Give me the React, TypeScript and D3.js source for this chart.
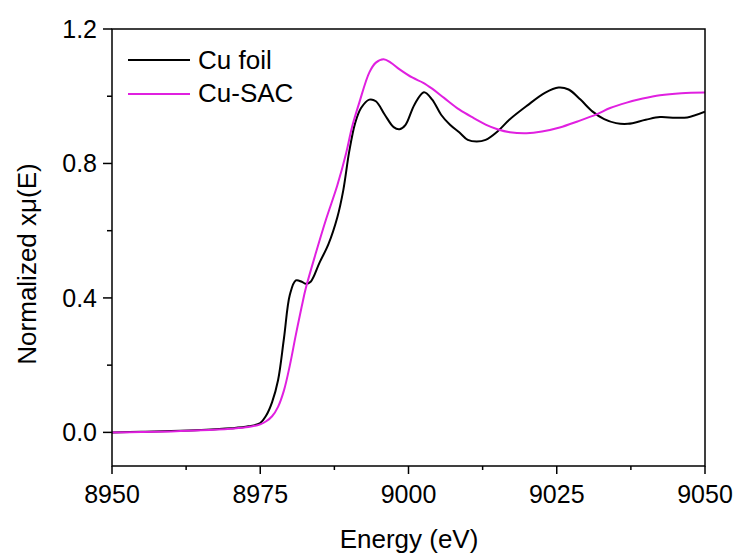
import React from "react";
import * as d3 from "d3";

// Cu K-edge XANES spectra (normalized absorption vs photon energy)
const foilEnergy = [
  8950, 8955, 8960, 8965, 8970, 8973, 8975, 8976, 8977, 8978, 8979, 8980, 8981,
  8982, 8982.7, 8983.5, 8985, 8986.5, 8988, 8989, 8990, 8991, 8992, 8993.4,
  8994.5, 8996, 8997.5, 8998.5, 8999.5, 9001, 9002.6, 9004, 9005.5, 9007,
  9008.6, 9010, 9011.5, 9013, 9015, 9017, 9020, 9023, 9025.3, 9027, 9029, 9031,
  9033, 9035, 9037, 9040, 9042.4, 9045, 9047, 9050,
];
const foilMu = [
  0.0, 0.002, 0.004, 0.007, 0.012, 0.018, 0.028, 0.05, 0.09, 0.155, 0.28, 0.41,
  0.452, 0.448, 0.442, 0.448, 0.505, 0.56, 0.64, 0.72, 0.835, 0.92, 0.965, 0.99,
  0.985, 0.945, 0.908, 0.902, 0.915, 0.975, 1.012, 0.99, 0.945, 0.915, 0.892,
  0.87, 0.865, 0.87, 0.895, 0.93, 0.972, 1.01, 1.026, 1.02, 0.99, 0.955, 0.932,
  0.92, 0.918, 0.93, 0.938, 0.936, 0.937, 0.954,
];

const sacEnergy = [
  8950, 8955, 8960, 8965, 8970, 8973, 8975, 8976, 8977, 8978, 8979, 8980, 8981,
  8982, 8982.7, 8984.4, 8986.1, 8988, 8989.5, 8990.5, 8991.7, 8993.4, 8994.5,
  8995.8, 8997, 8998.5, 9000.7, 9002.5, 9004.1, 9006, 9008.6, 9011, 9013.1,
  9015, 9017.1, 9019.9, 9022.5, 9025.5, 9028.5, 9031.7, 9034, 9036.8, 9039.5,
  9042.4, 9046, 9050,
];
const sacMu = [
  0.0, 0.001, 0.003, 0.006, 0.011, 0.016, 0.024, 0.033, 0.048, 0.076, 0.125,
  0.2, 0.29, 0.375, 0.43, 0.535, 0.634, 0.735, 0.832, 0.91, 0.981, 1.071, 1.1,
  1.11, 1.1, 1.08, 1.055, 1.04, 1.021, 0.995, 0.96, 0.935, 0.915, 0.902, 0.893,
  0.89, 0.895, 0.907, 0.925, 0.946, 0.965, 0.981, 0.993, 1.003, 1.009, 1.011,
];

const seriesNames = ["Cu foil", "Cu-SAC"];
const seriesColors = ["#000000", "#e020e0"];

const xTicks = [8950, 8975, 9000, 9025, 9050];
const xMinorTicks = [8962.5, 8987.5, 9012.5, 9037.5];
const yTicks = [0.0, 0.4, 0.8, 1.2];
const yMinorTicks = [0.2, 0.6, 1.0];

const W = 740;
const H = 557;
const left = 112;
const right = 705;
const top = 29;
const bottom = 466;
const FONT = "'Liberation Sans', Arial, Helvetica, sans-serif";

export default function App() {
  const x = d3.scaleLinear().domain([8950, 9050]).range([left, right]);
  const y = d3.scaleLinear().domain([-0.1, 1.2]).range([bottom, top]);

  const line = d3
    .line<[number, number]>()
    .x((d) => x(d[0]))
    .y((d) => y(d[1]))
    .curve(d3.curveCatmullRom.alpha(0.5));

  const foil = foilEnergy.map((e, i) => [e, foilMu[i]] as [number, number]);
  const sac = sacEnergy.map((e, i) => [e, sacMu[i]] as [number, number]);
  const series = [foil, sac];

  return (
    <svg
      width={W}
      height={H}
      style={{ position: "absolute", left: 0, top: 0, background: "#fff" }}
      fontFamily={FONT}
    >
      <rect x={0} y={0} width={W} height={H} fill="#fff" />
      <defs>
        <clipPath id="plot-area">
          <rect x={left} y={top} width={right - left} height={bottom - top} />
        </clipPath>
      </defs>

      {/* data curves */}
      <g clipPath="url(#plot-area)">
        {series.map((s, i) => (
          <path
            key={seriesNames[i]}
            d={line(s) ?? ""}
            fill="none"
            stroke={seriesColors[i]}
            strokeWidth={2}
            strokeLinejoin="round"
          />
        ))}
      </g>

      {/* frame */}
      <rect
        x={left}
        y={top}
        width={right - left}
        height={bottom - top}
        fill="none"
        stroke="#000"
        strokeWidth={1.5}
      />

      {/* x axis ticks */}
      {xTicks.map((t) => (
        <g key={`x${t}`}>
          <line x1={x(t)} x2={x(t)} y1={bottom} y2={bottom + 8} stroke="#000" strokeWidth={1.5} />
          <text x={x(t)} y={503} textAnchor="middle" fontSize={25} fill="#000">
            {t}
          </text>
        </g>
      ))}
      {xMinorTicks.map((t) => (
        <line key={`xm${t}`} x1={x(t)} x2={x(t)} y1={bottom} y2={bottom + 4} stroke="#000" strokeWidth={1.5} />
      ))}

      {/* y axis ticks */}
      {yTicks.map((t) => (
        <g key={`y${t}`}>
          <line x1={left - 9} x2={left} y1={y(t)} y2={y(t)} stroke="#000" strokeWidth={1.5} />
          <text x={97} y={y(t)} dy="0.35em" textAnchor="end" fontSize={25} fill="#000">
            {t.toFixed(1)}
          </text>
        </g>
      ))}
      {yMinorTicks.map((t) => (
        <line key={`ym${t}`} x1={left - 5} x2={left} y1={y(t)} y2={y(t)} stroke="#000" strokeWidth={1.5} />
      ))}

      {/* axis titles */}
      <text x={409} y={548} textAnchor="middle" fontSize={26} fill="#000">
        Energy (eV)
      </text>
      <text
        transform="translate(36,264) rotate(-90)"
        textAnchor="middle"
        fontSize={26}
        fill="#000"
      >
        Normalized xμ(E)
      </text>

      {/* legend */}
      {seriesNames.map((name, i) => (
        <g key={`lg${name}`}>
          <line
            x1={128}
            x2={190}
            y1={60 + i * 34}
            y2={60 + i * 34}
            stroke={seriesColors[i]}
            strokeWidth={2}
          />
          <text x={198} y={69 + i * 33} fontSize={26} fill="#000">
            {name}
          </text>
        </g>
      ))}
    </svg>
  );
}
